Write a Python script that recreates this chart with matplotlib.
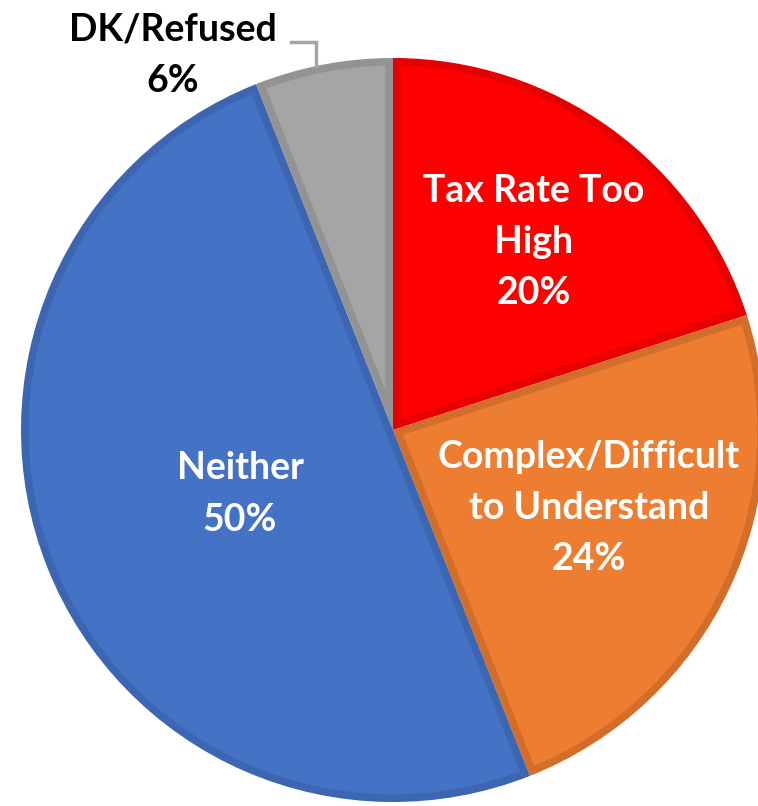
import matplotlib.pyplot as plt
from matplotlib.patches import Wedge

labels = ["Tax Rate Too\nHigh", "Complex/Difficult\nto Understand", "Neither", "DK/Refused"]
shares = [20, 24, 50, 6]
colors = ["#FF0000", "#ED7D31", "#4472C4", "#A5A5A5"]
edges = ["#E60000", "#D26E2A", "#3C66B2", "#939393"]

W, H = 758, 806
fig = plt.figure(figsize=(W / 100, H / 100), dpi=100)
ax = fig.add_axes([0, 0, 1, 1])

cx, cy, r = 393, H - 430, 372
wedges, _ = ax.pie(shares, colors=colors, startangle=90, counterclock=False,
                   center=(cx, cy), radius=r, frame=True,
                   wedgeprops=dict(edgecolor="white", linewidth=0.8))
ax.set_xlim(0, W)
ax.set_ylim(0, H)
ax.set_aspect("equal")
ax.axis("off")

# darker inner rim on each slice
for w, ec in zip(wedges, edges):
    rim = Wedge(w.center, w.r, w.theta1, w.theta2, facecolor="none",
                edgecolor=ec, linewidth=11)
    ax.add_patch(rim)
    rim.set_clip_path(w)

font = "Lato"
fs = 27
ls = 1.62
pct = [f"{s}%" for s in shares]

ax.text(534, H - 242, labels[0] + "\n" + pct[0], ha="center", va="center",
        color="white", fontsize=fs, fontweight="bold", family=font, linespacing=ls)
ax.text(589, H - 508, labels[1] + "\n" + pct[1], ha="center", va="center",
        color="white", fontsize=fs, fontweight="bold", family=font, linespacing=ls)
ax.text(240, H - 494, labels[2] + "\n" + pct[2], ha="center", va="center",
        color="white", fontsize=fs, fontweight="bold", family=font, linespacing=ls)
ax.text(173, H - 55, labels[3] + "\n" + pct[3], ha="center", va="center",
        color="black", fontsize=fs, fontweight="bold", family=font, linespacing=ls)

# leader line for DK/Refused
ax.plot([291, 316, 316], [H - 42, H - 42, H - 66], color="#A5A5A5", lw=2.5,
        solid_joinstyle="miter")

fig.savefig("out.png", dpi=100)
